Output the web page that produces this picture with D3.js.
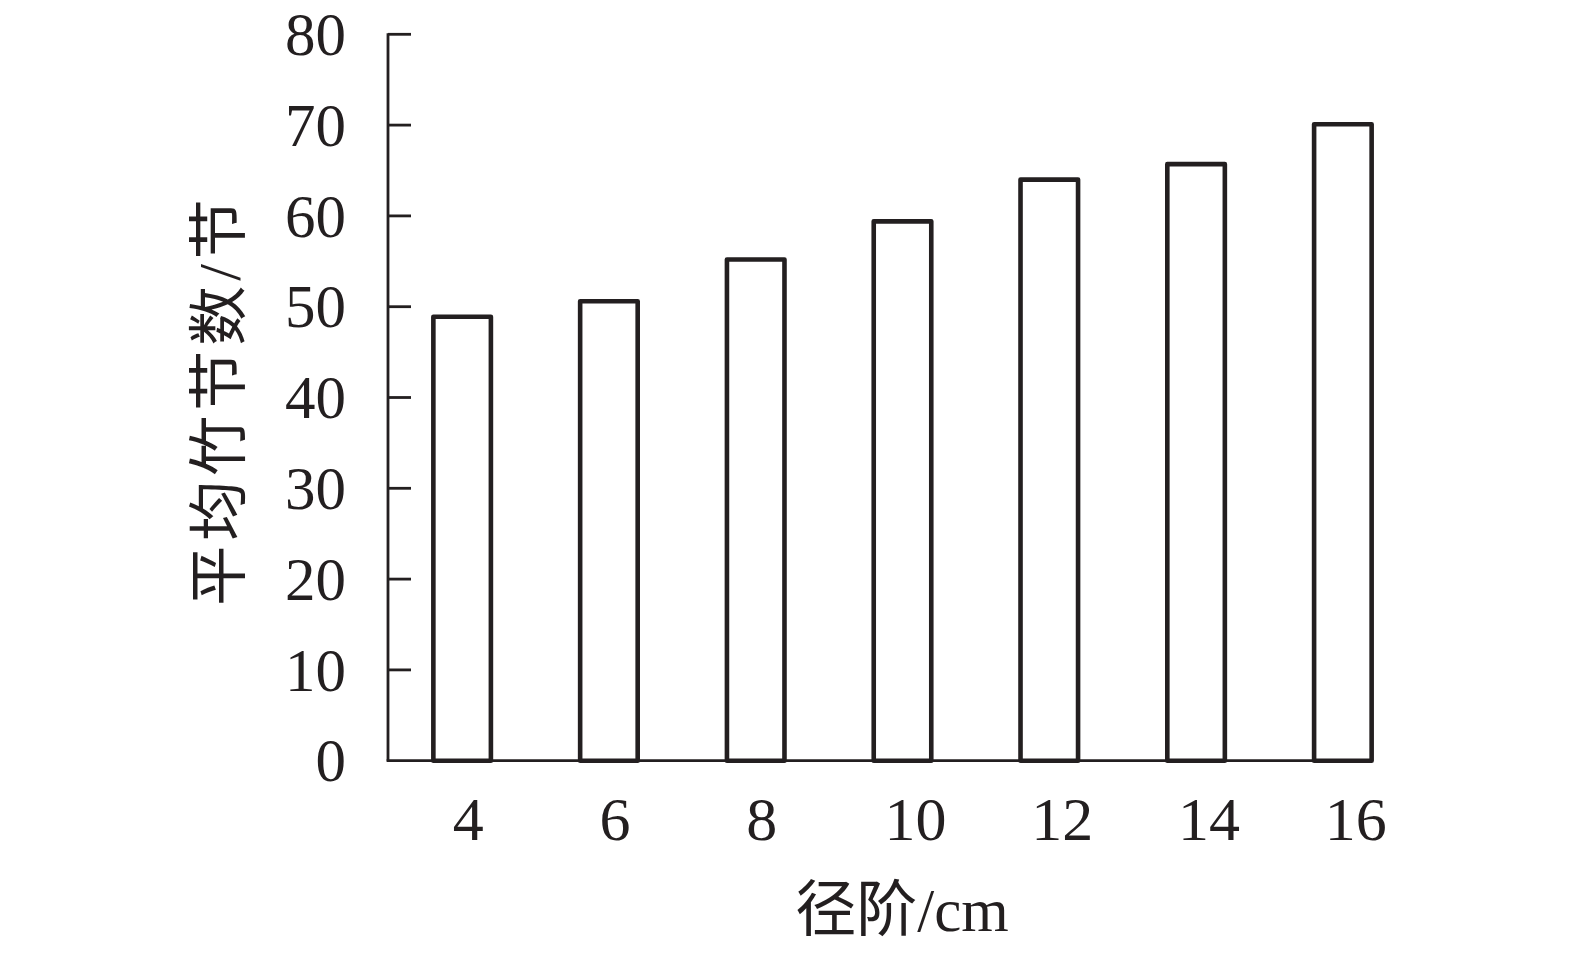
<!DOCTYPE html>
<html>
<head>
<meta charset="utf-8">
<script src="https://cdn.jsdelivr.net/npm/d3@7"></script>
<style>
  html, body { margin: 0; padding: 0; background: #ffffff; }
  svg { display: block; }
</style>
</head>
<body>
<svg id="chart"></svg>
<script>
// Diameter classes (cm) and mean number of bamboo nodes
const classes = ["4", "6", "8", "10", "12", "14", "16"];
const nodeCounts = [48.9, 50.6, 55.2, 59.4, 64.0, 65.7, 70.1];
const yTicks = [0, 10, 20, 30, 40, 50, 60, 70, 80];

const xTitle = "径阶/cm";
const yTitle = "平均竹节数/节";

const width = 1575;
const height = 953;
const ink = "#231f20";
const latin = "'Liberation Serif', 'Times New Roman', serif";
const cjk = "'Liberation Serif', 'Noto Sans CJK SC', serif";

const svg = d3.select("#chart")
  .attr("width", width)
  .attr("height", height);

// Plot area
const axisX = 388;
const baseY = 760.7;

const x = d3.scaleBand()
  .domain(classes)
  .range([axisX, 1417])
  .paddingInner(0.608)
  .paddingOuter(0.309);

const y = d3.scaleLinear()
  .domain([0, 80])
  .range([baseY, 34.3]);

// Bars (white boxes with dark outline)
svg.append("g")
  .selectAll("rect")
  .data(nodeCounts)
  .enter()
  .append("rect")
  .attr("x", (d, i) => x(classes[i]))
  .attr("y", d => y(d))
  .attr("width", x.bandwidth())
  .attr("height", d => y(0) - y(d))
  .attr("fill", "#ffffff")
  .attr("stroke", ink)
  .attr("stroke-width", 4.6)
  .attr("stroke-linejoin", "round");

// Y axis: line, inward ticks and labels
const yAxis = svg.append("g").attr("class", "y-axis");

yAxis.append("line")
  .attr("x1", axisX)
  .attr("x2", axisX)
  .attr("y1", y(80) - 1)
  .attr("y2", baseY)
  .attr("stroke", ink)
  .attr("stroke-width", 2.8);

yAxis.selectAll(".tick-mark")
  .data(yTicks.filter(d => d > 0))
  .enter()
  .append("line")
  .attr("class", "tick-mark")
  .attr("x1", axisX)
  .attr("x2", axisX + 23)
  .attr("y1", d => y(d))
  .attr("y2", d => y(d))
  .attr("stroke", ink)
  .attr("stroke-width", 2.8);

yAxis.selectAll(".tick-label")
  .data(yTicks)
  .enter()
  .append("text")
  .attr("class", "tick-label")
  .attr("x", 346)
  .attr("y", d => y(d))
  .attr("dy", "0.34em")
  .attr("text-anchor", "end")
  .style("font-family", latin)
  .style("font-size", "61px")
  .style("fill", ink)
  .text(d => d);

// X axis line spans from the y axis to the end of the last bar
const lastBand = x(classes[classes.length - 1]) + x.bandwidth();
svg.append("line")
  .attr("x1", axisX - 1.4)
  .attr("x2", lastBand)
  .attr("y1", baseY)
  .attr("y2", baseY)
  .attr("stroke", ink)
  .attr("stroke-width", 2.8);

// X tick labels (two-digit labels sit a little further right in the original)
svg.append("g")
  .selectAll("text")
  .data(classes)
  .enter()
  .append("text")
  .attr("x", d => x(d) + x.bandwidth() / 2 + 6 + (d.length - 1) * 7)
  .attr("y", 839.5)
  .attr("text-anchor", "middle")
  .style("font-family", latin)
  .style("font-size", "62px")
  .style("fill", ink)
  .text(d => d);

// Axis titles
svg.append("text")
  .attr("x", 902)
  .attr("y", 931)
  .attr("text-anchor", "middle")
  .style("font-family", cjk)
  .style("font-size", "61px")
  .style("fill", ink)
  .text(xTitle);

svg.append("text")
  .attr("transform", "translate(240,400) rotate(-90)")
  .attr("text-anchor", "middle")
  .style("font-family", cjk)
  .style("font-size", "60px")
  .style("letter-spacing", "5px")
  .style("fill", ink)
  .text(yTitle);
</script>
</body>
</html>
